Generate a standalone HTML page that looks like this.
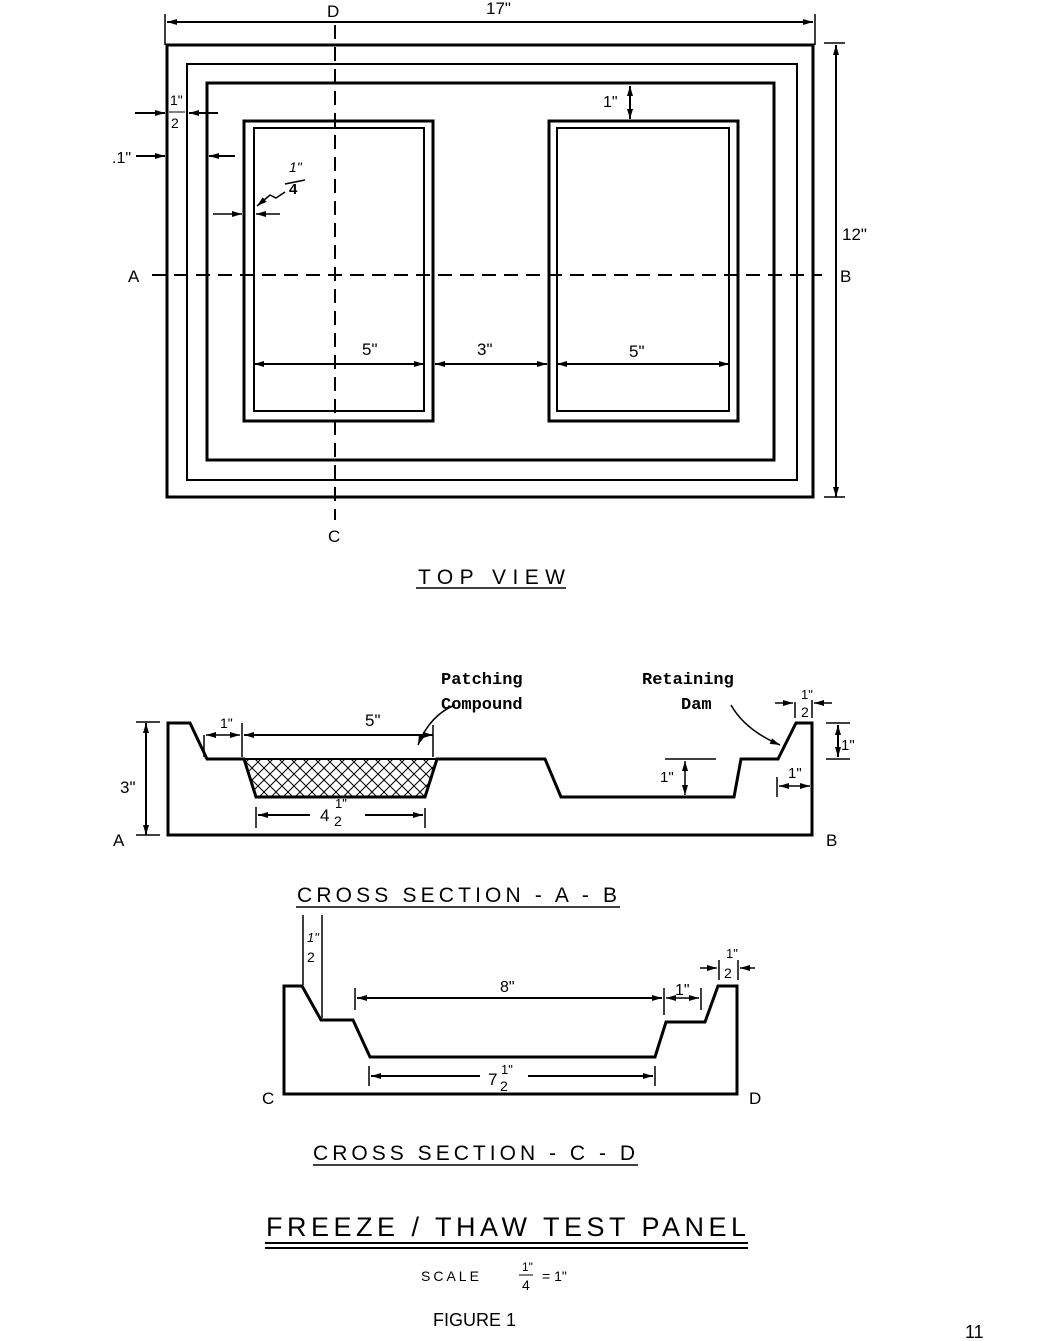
<!DOCTYPE html>
<html><head><style>
body{margin:0;background:#fff;}
svg{display:block;}
text{font-family:"Liberation Sans",sans-serif;fill:#000;}
.m{font-family:"Liberation Mono",monospace;font-weight:bold;}
</style></head><body>
<svg width="1042" height="1341" viewBox="0 0 1042 1341" xmlns="http://www.w3.org/2000/svg">
<defs>
<marker id="ar" markerWidth="10" markerHeight="6" refX="10" refY="3" orient="auto-start-reverse" markerUnits="userSpaceOnUse"><path d="M0,0 L10,3 L0,6z" fill="#000"/></marker>
<pattern id="hatch" width="12" height="12" patternUnits="userSpaceOnUse"><path d="M0,0 L12,12 M12,0 L0,12" stroke="#000" stroke-width="1"/></pattern>
</defs>
<g fill="none" stroke="#000">
<rect x="167" y="45" width="646" height="452" stroke-width="3"/>
<rect x="187" y="64" width="610" height="416" stroke-width="2"/>
<rect x="207" y="83" width="567" height="377" stroke-width="3"/>
<rect x="244" y="121" width="189" height="300" stroke-width="3"/>
<rect x="254" y="128" width="170" height="283" stroke-width="2"/>
<rect x="549" y="121" width="189" height="300" stroke-width="3"/>
<rect x="557" y="128" width="172" height="283" stroke-width="2"/>
<line x1="152" y1="275" x2="822" y2="275" stroke-width="2" stroke-dasharray="14,8"/>
<line x1="335" y1="25" x2="335" y2="520" stroke-width="2" stroke-dasharray="14,8"/>
<line x1="167" y1="22" x2="813" y2="22" stroke-width="2" marker-start="url(#ar)" marker-end="url(#ar)"/>
<line x1="165" y1="14" x2="165" y2="45" stroke-width="1.5"/><line x1="815" y1="14" x2="815" y2="45" stroke-width="1.5"/>
<line x1="836" y1="45" x2="836" y2="497" stroke-width="2" marker-start="url(#ar)" marker-end="url(#ar)"/>
<line x1="824" y1="43" x2="845" y2="43" stroke-width="1.5"/><line x1="824" y1="497" x2="845" y2="497" stroke-width="1.5"/>
<line x1="135" y1="113" x2="165" y2="113" stroke-width="2" marker-end="url(#ar)"/>
<line x1="218" y1="113" x2="189" y2="113" stroke-width="2" marker-end="url(#ar)"/>
<line x1="136" y1="156" x2="165" y2="156" stroke-width="2" marker-end="url(#ar)"/>
<line x1="235" y1="156" x2="209" y2="156" stroke-width="2" marker-end="url(#ar)"/>
<line x1="213" y1="214" x2="242" y2="214" stroke-width="1.5" marker-end="url(#ar)"/>
<line x1="280" y1="214" x2="256" y2="214" stroke-width="1.5" marker-end="url(#ar)"/>
<path d="M285,192 L276,198 L270,195 L257,206" stroke-width="1.5" marker-end="url(#ar)"/>
<line x1="285" y1="184" x2="305" y2="180" stroke-width="1.5"/>
<line x1="630" y1="86" x2="630" y2="119" stroke-width="2" marker-start="url(#ar)" marker-end="url(#ar)"/>
<line x1="254" y1="364" x2="424" y2="364" stroke-width="2" marker-start="url(#ar)" marker-end="url(#ar)"/>
<line x1="435" y1="364" x2="547" y2="364" stroke-width="2" marker-start="url(#ar)" marker-end="url(#ar)"/>
<line x1="557" y1="364" x2="729" y2="364" stroke-width="2" marker-start="url(#ar)" marker-end="url(#ar)"/>
<line x1="416" y1="588" x2="566" y2="588" stroke-width="1.5"/>
<path d="M168,723 L190,723 L207,759 L244,759 L256,797 L425,797 L437,759 L545,759 L561,797 L734,797 L741,759 L778,759 L796,723 L812,723 L812,835 L168,835 Z" stroke-width="3"/>
<path d="M244,759 L437,759 L425,797 L256,797 Z" fill="url(#hatch)" stroke-width="2"/>
<line x1="146" y1="723" x2="146" y2="835" stroke-width="2" marker-start="url(#ar)" marker-end="url(#ar)"/>
<line x1="136" y1="722" x2="160" y2="722" stroke-width="1.5"/><line x1="136" y1="835" x2="160" y2="835" stroke-width="1.5"/>
<line x1="204" y1="735" x2="204" y2="757" stroke-width="1.5"/><line x1="242" y1="723" x2="242" y2="757" stroke-width="1.5"/>
<line x1="206" y1="735" x2="240" y2="735" stroke-width="1.5" marker-start="url(#ar)" marker-end="url(#ar)"/>
<line x1="244" y1="735" x2="433" y2="735" stroke-width="2" marker-start="url(#ar)" marker-end="url(#ar)"/>
<line x1="433" y1="725" x2="433" y2="757" stroke-width="1.5"/>
<line x1="256" y1="807" x2="256" y2="828" stroke-width="1.5"/><line x1="425" y1="808" x2="425" y2="828" stroke-width="1.5"/>
<line x1="258" y1="815" x2="310" y2="815" stroke-width="2" marker-start="url(#ar)"/>
<line x1="365" y1="815" x2="423" y2="815" stroke-width="2" marker-end="url(#ar)"/>
<path d="M455,705 Q430,715 418,745" stroke-width="1.5" marker-end="url(#ar)"/>
<path d="M731,705 Q745,730 780,745" stroke-width="1.5" marker-end="url(#ar)"/>
<line x1="665" y1="759" x2="716" y2="759" stroke-width="1.5"/>
<line x1="685" y1="761" x2="685" y2="795" stroke-width="1.5" marker-start="url(#ar)" marker-end="url(#ar)"/>
<line x1="826" y1="723" x2="850" y2="723" stroke-width="1.5"/><line x1="826" y1="759" x2="850" y2="759" stroke-width="1.5"/>
<line x1="838" y1="725" x2="838" y2="757" stroke-width="2" marker-start="url(#ar)" marker-end="url(#ar)"/>
<line x1="795" y1="702" x2="795" y2="718" stroke-width="1.5"/><line x1="812" y1="700" x2="812" y2="718" stroke-width="1.5"/>
<line x1="775" y1="703" x2="793" y2="703" stroke-width="1.5" marker-end="url(#ar)"/>
<line x1="832" y1="703" x2="814" y2="703" stroke-width="1.5" marker-end="url(#ar)"/>
<line x1="777" y1="777" x2="777" y2="797" stroke-width="1.5"/>
<line x1="779" y1="786" x2="810" y2="786" stroke-width="1.5" marker-start="url(#ar)" marker-end="url(#ar)"/>
<line x1="296" y1="907" x2="620" y2="907" stroke-width="1.5"/>
<path d="M284,986 L302,986 L321,1020 L353,1020 L370,1057 L655,1057 L666,1022 L705,1022 L718,986 L737,986 L737,1094 L284,1094 Z" stroke-width="3"/>
<line x1="303" y1="915" x2="303" y2="985" stroke-width="1.5"/><line x1="322" y1="915" x2="322" y2="1018" stroke-width="1.5"/>
<line x1="355" y1="988" x2="355" y2="1010" stroke-width="1.5"/><line x1="664" y1="988" x2="664" y2="1015" stroke-width="1.5"/><line x1="701" y1="988" x2="701" y2="1010" stroke-width="1.5"/>
<line x1="357" y1="998" x2="662" y2="998" stroke-width="2" marker-start="url(#ar)" marker-end="url(#ar)"/>
<line x1="666" y1="998" x2="699" y2="998" stroke-width="1.5" marker-start="url(#ar)" marker-end="url(#ar)"/>
<line x1="719" y1="960" x2="719" y2="980" stroke-width="1.5"/><line x1="738" y1="960" x2="738" y2="980" stroke-width="1.5"/>
<line x1="700" y1="968" x2="717" y2="968" stroke-width="1.5" marker-end="url(#ar)"/>
<line x1="755" y1="968" x2="740" y2="968" stroke-width="1.5" marker-end="url(#ar)"/>
<line x1="369" y1="1066" x2="369" y2="1086" stroke-width="1.5"/><line x1="655" y1="1066" x2="655" y2="1086" stroke-width="1.5"/>
<line x1="371" y1="1076" x2="480" y2="1076" stroke-width="2" marker-start="url(#ar)"/>
<line x1="528" y1="1076" x2="653" y2="1076" stroke-width="2" marker-end="url(#ar)"/>
<line x1="313" y1="1165" x2="638" y2="1165" stroke-width="1.5"/>
<line x1="265" y1="1243" x2="748" y2="1243" stroke-width="2"/>
<line x1="265" y1="1248" x2="748" y2="1248" stroke-width="2"/>
</g>
<g font-size="17">
<text x="327" y="17">D</text>
<text x="486" y="14">17"</text>
<text x="328" y="542">C</text>
<text x="128" y="282">A</text>
<text x="840" y="282">B</text>
<text x="842" y="240">12"</text>
<text x="170" y="105" font-size="14">1"</text><text x="171" y="128" font-size="14">2</text>
<line x1="169" y1="112" x2="185" y2="112" stroke="#000"/>
<text x="112" y="163" font-size="16">.1"</text>
<text x="289" y="172" font-size="14" font-style="italic">1"</text><text x="289" y="194" font-size="15" font-weight="bold">4</text>
<text x="603" y="107" font-size="16">1"</text>
<text x="362" y="355">5"</text>
<text x="477" y="355">3"</text>
<text x="629" y="357">5"</text>
<text x="418" y="584" font-size="21" textLength="147" lengthAdjust="spacing">TOP  VIEW</text>
<text x="441" y="684" class="m" font-size="17">Patching</text>
<text x="441" y="709" class="m" font-size="17">Compound</text>
<text x="642" y="684" class="m" font-size="17">Retaining</text>
<text x="681" y="709" class="m" font-size="17">Dam</text>
<text x="365" y="726">5"</text>
<text x="220" y="728" font-size="14">1"</text>
<text x="120" y="793">3"</text>
<text x="113" y="846">A</text>
<text x="826" y="846">B</text>
<text x="660" y="782" font-size="15">1"</text>
<text x="841" y="750" font-size="15">1"</text>
<text x="788" y="778" font-size="15">1"</text>
<text x="801" y="699" font-size="13">1"</text><text x="801" y="717" font-size="14">2</text>
<text x="320" y="821">4</text><text x="335" y="808" font-size="13">1"</text><text x="334" y="826" font-size="14">2</text>
<text x="297" y="902" font-size="21" textLength="320" lengthAdjust="spacing">CROSS SECTION - A - B</text>
<text x="307" y="942" font-size="13" font-style="italic">1"</text><text x="307" y="962" font-size="14">2</text>
<text x="500" y="992" font-size="16">8"</text>
<text x="675" y="995" font-size="16">1"</text>
<text x="726" y="958" font-size="13">1"</text><text x="724" y="978" font-size="14">2</text>
<text x="488" y="1085">7</text><text x="501" y="1074" font-size="13">1"</text><text x="500" y="1091" font-size="14">2</text>
<text x="262" y="1104">C</text>
<text x="749" y="1104">D</text>
<text x="313" y="1160" font-size="21" textLength="322" lengthAdjust="spacing">CROSS SECTION - C - D</text>
<text x="266" y="1236" font-size="27" textLength="480" lengthAdjust="spacing">FREEZE / THAW  TEST  PANEL</text>
<text x="421" y="1281" font-size="14" letter-spacing="3">SCALE</text>
<text x="522" y="1271" font-size="12">1"</text><text x="522" y="1290" font-size="14">4</text>
<line x1="519" y1="1275" x2="533" y2="1275" stroke="#000"/>
<text x="542" y="1281" font-size="14">= 1"</text>
<text x="433" y="1326" font-family="Liberation Serif" font-size="18">FIGURE 1</text>
<text x="965" y="1338" font-family="Liberation Serif" font-size="18">11</text>
</g>
</svg>
</body></html>
